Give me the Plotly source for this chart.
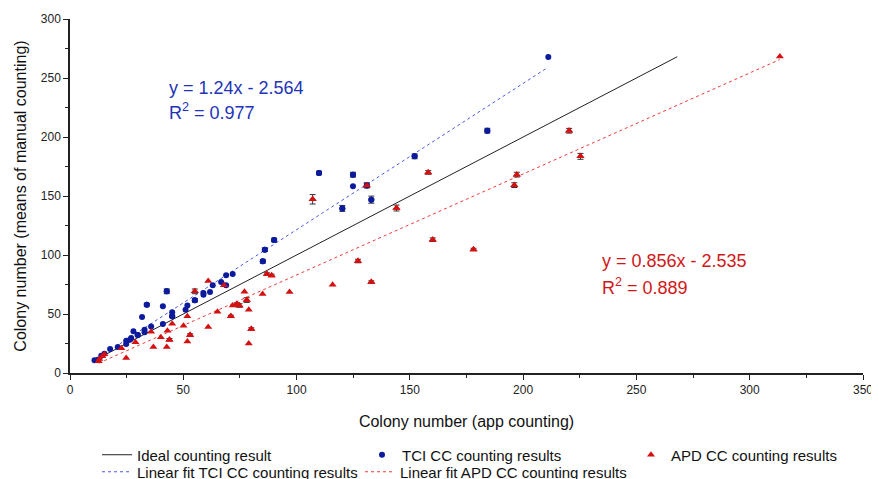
import plotly.graph_objects as go

# ---- data ----
tci_x = [211.1, 184.2, 152.1, 109.9, 124.9, 124.9, 131.0, 133.0, 120.2, 90.1,
         86.0, 85.1, 71.8, 68.9, 66.7, 68.9, 63.0, 61.8, 58.9, 58.9,
         55.1, 51.8, 51.0, 45.1, 45.1, 42.7, 41.0, 41.0, 33.9, 31.8,
         35.8, 32.9, 32.9, 29.9, 28.0, 27.0, 26.5, 24.8, 24.8, 21.1,
         17.7, 15.2, 13.8, 10.8, 12.3]
tci_y = [267.8, 205.4, 183.6, 169.5, 168.1, 158.2, 159.0, 146.9, 139.5, 112.7,
         104.5, 94.6, 83.9, 82.8, 77.1, 74.3, 74.3, 68.6, 67.8, 66.4,
         61.6, 57.3, 53.7, 51.4, 48.0, 69.2, 56.5, 41.5, 57.9, 47.5,
         39.5, 36.7, 34.5, 32.2, 35.3, 29.7, 28.2, 27.4, 24.6, 22.0,
         20.3, 16.4, 14.7, 10.7, 11.3]
tci_err = [0, 2, 2, 1.5, 2, 0, 2, 3, 2.5, 1.5,
           1.5, 1.5, 0, 0, 0, 0, 0, 0, 0, 0,
           1.5, 0, 0, 0, 1, 2, 0, 0, 1, 0,
           0, 0, 0, 0.8, 0, 0, 0, 0, 0, 0,
           0, 0, 0, 0, 0]

apd_x = [313.3, 220.3, 225.3, 197.2, 196.1, 158.1, 144.1, 160.1, 178.1, 107.1,
         131.0, 127.1, 115.9, 133.0, 96.9, 86.9, 89.0, 85.0, 61.0, 68.0,
         77.0, 78.0, 74.8, 71.8, 73.6, 78.9, 71.0, 80.0, 78.9, 65.1,
         61.0, 55.1, 51.8, 50.1, 53.0, 51.8, 45.1, 43.0, 43.9, 40.1,
         42.7, 36.8, 35.8, 28.9, 22.7, 24.8, 15.2, 14.2, 13.0, 12.7]
apd_y = [268.3, 205.3, 183.6, 168.1, 159.2, 170.0, 139.8, 113.0, 104.7, 147.2,
         159.0, 94.9, 74.8, 77.1, 68.7, 83.9, 82.7, 66.9, 78.0, 74.3,
         68.8, 61.8, 57.2, 57.1, 58.5, 53.7, 48.0, 37.3, 24.9, 52.0,
         39.0, 69.2, 48.0, 40.1, 32.2, 26.6, 41.8, 35.9, 28.2, 30.2,
         22.0, 22.0, 35.0, 26.0, 20.9, 12.7, 15.8, 14.1, 11.9, 9.9]
apd_err = [0, 2, 2.5, 2, 2, 1.5, 2.5, 1.5, 1, 4,
           2, 1.5, 0, 1, 0, 1, 1, 0, 0, 1,
           0, 2, 1.5, 0, 1, 0, 1, 1, 0, 0,
           0, 2, 0, 0, 1, 0, 0, 0, 1, 0,
           0, 0, 0, 0, 0, 0, 0, 0, 0, 0]

ideal_x = [10.8, 268.0]
tci_fit_slope, tci_fit_icpt = 1.24, -2.564
tci_fit_x = [10.8, 211.1]
apd_fit_slope, apd_fit_icpt = 0.856, -2.535
apd_fit_x = [12.7, 313.3]

BLUE = '#0c1a9e'
RED = '#d41010'
FONT = 'Arial, Liberation Sans, sans-serif'

fig = go.Figure()

fig.add_trace(go.Scatter(x=ideal_x, y=ideal_x, mode='lines',
                         line=dict(color='#222222', width=1),
                         name='Ideal counting result', legend='legend'))

fig.add_trace(go.Scatter(x=tci_fit_x, y=[tci_fit_slope * v + tci_fit_icpt for v in tci_fit_x],
                         mode='lines', line=dict(color='#4a5ae8', width=1, dash='dot'),
                         name='Linear fit TCI CC counting results', legend='legend4'))
fig.add_trace(go.Scatter(x=apd_fit_x, y=[apd_fit_slope * v + apd_fit_icpt for v in apd_fit_x],
                         mode='lines', line=dict(color='#ee3b3b', width=1, dash='dot'),
                         name='Linear fit APD CC counting results', legend='legend5'))

# error-bar subsets
for xs, ys, es, col, sym, sz in [(tci_x, tci_y, tci_err, BLUE, 'circle', 6),
                                 (apd_x, apd_y, apd_err, RED, 'triangle-up', 7)]:
    idx = [i for i, e in enumerate(es) if e > 0]
    fig.add_trace(go.Scatter(x=[xs[i] for i in idx], y=[ys[i] for i in idx], mode='markers',
                             marker=dict(color=col, symbol=sym, size=sz),
                             error_y=dict(type='data', array=[es[i] for i in idx], visible=True,
                                          color='#333333', thickness=1, width=3),
                             showlegend=False, hoverinfo='skip'))

fig.add_trace(go.Scatter(x=tci_x, y=tci_y, mode='markers',
                         marker=dict(color=BLUE, symbol='circle', size=6),
                         name='TCI CC counting results', legend='legend2'))
fig.add_trace(go.Scatter(x=apd_x, y=apd_y, mode='markers',
                         marker=dict(color=RED, symbol='triangle-up', size=7),
                         name='APD CC counting results', legend='legend3'))

ANN_BLUE = '#2233b8'
ANN_RED = '#d01818'
fig.add_annotation(x=43, y=241.5, xref='x', yref='y', text='y = 1.24x - 2.564',
                   showarrow=False, xanchor='left', yanchor='middle',
                   font=dict(family=FONT, size=18, color=ANN_BLUE))
fig.add_annotation(x=43, y=221.5, xref='x', yref='y', text='R<sup>2</sup> = 0.977',
                   showarrow=False, xanchor='left', yanchor='middle',
                   font=dict(family=FONT, size=18, color=ANN_BLUE))
fig.add_annotation(x=234, y=94.5, xref='x', yref='y', text='y = 0.856x - 2.535',
                   showarrow=False, xanchor='left', yanchor='middle',
                   font=dict(family=FONT, size=18, color=ANN_RED))
fig.add_annotation(x=234, y=73.5, xref='x', yref='y', text='R<sup>2</sup> = 0.889',
                   showarrow=False, xanchor='left', yanchor='middle',
                   font=dict(family=FONT, size=18, color=ANN_RED))

axis_common = dict(showgrid=False, zeroline=False, showline=True, linecolor='#222222',
                   linewidth=1.5, ticks='outside', ticklen=5, tickwidth=1.2, tickcolor='#222222',
                   tickfont=dict(family=FONT, size=12, color='#222222'),
                   minor=dict(ticks='outside', ticklen=3, tickcolor='#222222', tickwidth=1))


def leg(xp, yp):
    return dict(orientation='h', x=xp, xanchor='left', y=yp, yanchor='middle',
                font=dict(family=FONT, size=15, color='#111111'),
                bgcolor='rgba(0,0,0,0)', borderwidth=0, itemclick=False)


# page has an 8px body margin, so the figure is 8px smaller and margins 8px less
PL, PW = 70, 793
ROW1, ROW2 = -0.2316, -0.2797

fig.update_layout(
    width=871, height=471,
    margin=dict(l=62, r=16, t=11, b=106, autoexpand=False),
    plot_bgcolor='white', paper_bgcolor='white',
    xaxis=dict(range=[0, 350], dtick=50, tick0=0, **axis_common,
               title=dict(text='Colony number (app counting)',
                          font=dict(family=FONT, size=16, color='#111111'), standoff=20)),
    yaxis=dict(range=[0, 300], dtick=50, tick0=0, **axis_common,
               title=dict(text='Colony number (means of manual counting)',
                          font=dict(family=FONT, size=16, color='#111111'), standoff=10)),
    legend=leg((97 - PL) / PW, ROW1),
    legend2=leg((362 - PL) / PW, ROW1),
    legend3=leg((631 - PL) / PW, ROW1),
    legend4=leg((97 - PL) / PW, ROW2),
    legend5=leg((360 - PL) / PW, ROW2),
    showlegend=True,
)
fig.update_xaxes(minor_dtick=25)
fig.update_yaxes(minor_dtick=25)

fig.write_html('out.html')
